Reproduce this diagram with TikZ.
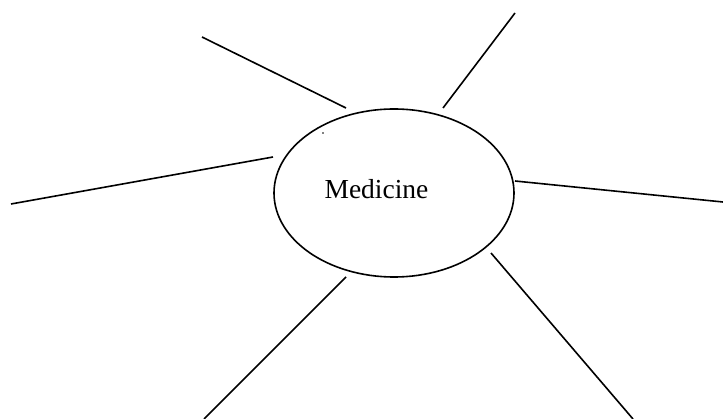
\documentclass[tikz,border=0pt]{standalone}
\usepackage{fontspec}
\setmainfont{Liberation Serif}
\usetikzlibrary{shapes.geometric}
\begin{document}
\begin{tikzpicture}[x=1pt,y=-1pt,
  spoke/.style={line width=1.6pt, line cap=butt},
  hub/.style={draw, line width=1.6pt, ellipse, minimum width=240pt, minimum height=168pt, inner sep=0pt}]
\useasboundingbox (0,0) rectangle (723,419);
% central ellipse
\node[hub] (med) at (394,193) {};
\node[anchor=base, font=\fontsize{27.5}{30}\selectfont] (lbl) at (376.5,199) {Medicine};
\fill (323,133) circle (0.8pt);
% spoke end points
\coordinate (a1) at (202,37);  \coordinate (a2) at (346,108);
\coordinate (b1) at (515,13);  \coordinate (b2) at (443,108);
\coordinate (c1) at (11,204);  \coordinate (c2) at (273,157);
\coordinate (d1) at (515,181); \coordinate (d2) at (723,202);
\coordinate (e1) at (346,277); \coordinate (e2) at (204,419);
\coordinate (f1) at (491,253); \coordinate (f2) at (633,419);
% spokes
\draw[spoke] (a1) -- (a2);
\draw[spoke] (b1) -- (b2);
\draw[spoke] (c1) -- (c2);
\draw[spoke] (d1) -- (d2);
\draw[spoke] (e1) -- (e2);
\draw[spoke] (f1) -- (f2);
\end{tikzpicture}
\end{document}
